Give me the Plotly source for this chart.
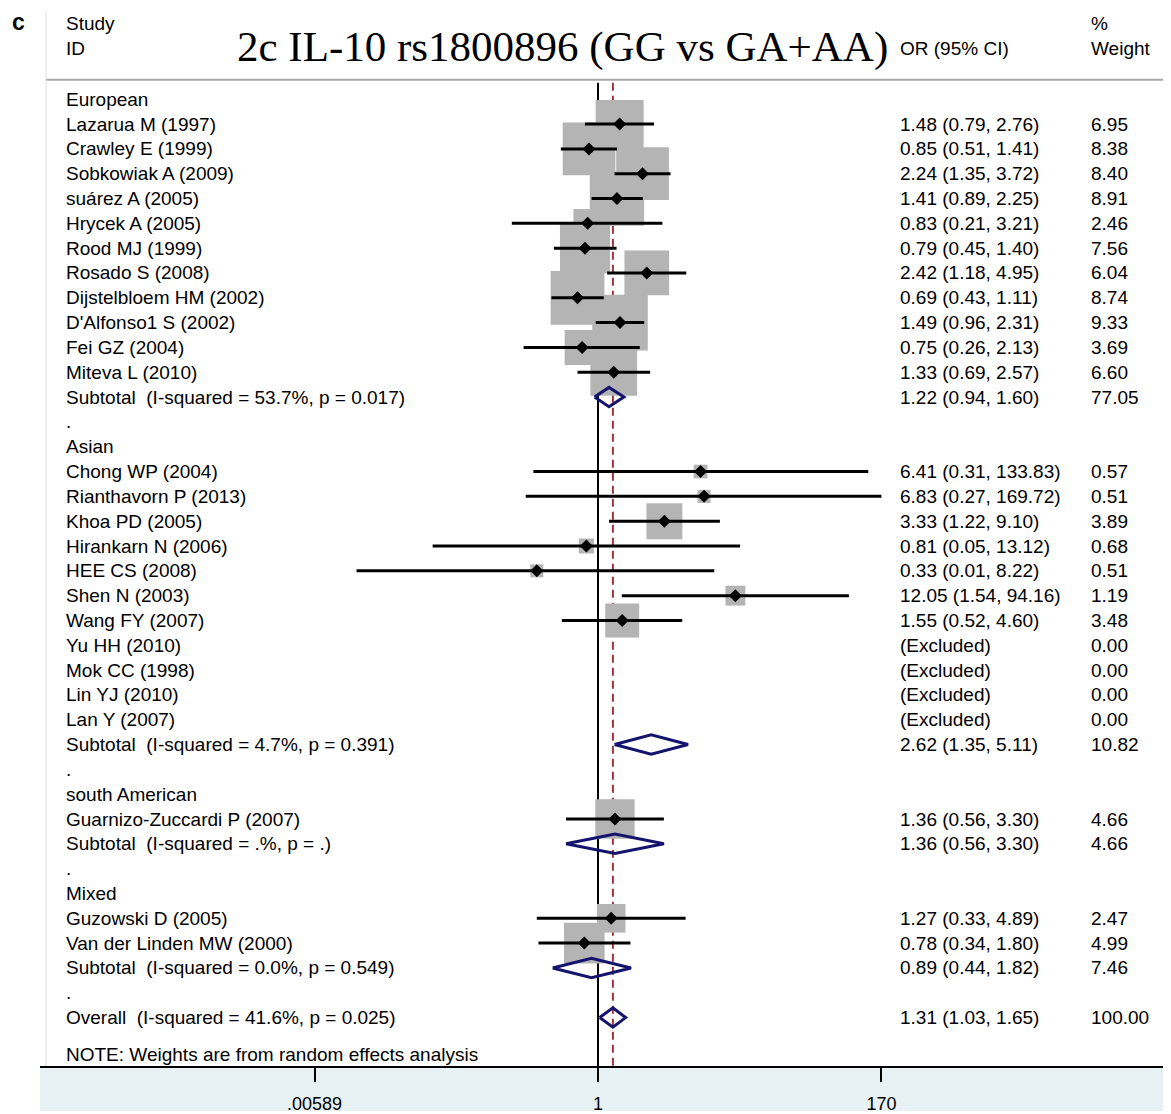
import plotly.graph_objects as go

# ---------------- data ----------------
groups = ["European", "Asian", "south American", "Mixed"]

study = ["Lazarua M (1997)", "Crawley E (1999)", "Sobkowiak A (2009)", "suárez A (2005)",
         "Hrycek A (2005)", "Rood MJ (1999)", "Rosado S (2008)", "Dijstelbloem HM (2002)",
         "D'Alfonso1 S (2002)", "Fei GZ (2004)", "Miteva L (2010)",
         "Chong WP (2004)", "Rianthavorn P (2013)", "Khoa PD (2005)", "Hirankarn N (2006)",
         "HEE CS (2008)", "Shen N (2003)", "Wang FY (2007)", "Yu HH (2010)", "Mok CC (1998)",
         "Lin YJ (2010)", "Lan Y (2007)",
         "Guarnizo-Zuccardi P (2007)",
         "Guzowski D (2005)", "Van der Linden MW (2000)"]
study_group = ["European"] * 11 + ["Asian"] * 11 + ["south American"] + ["Mixed"] * 2
odds = [1.48, 0.85, 2.24, 1.41, 0.83, 0.79, 2.42, 0.69, 1.49, 0.75, 1.33,
        6.41, 6.83, 3.33, 0.81, 0.33, 12.05, 1.55, None, None, None, None,
        1.36,
        1.27, 0.78]
ci_lo = [0.79, 0.51, 1.35, 0.89, 0.21, 0.45, 1.18, 0.43, 0.96, 0.26, 0.69,
         0.31, 0.27, 1.22, 0.05, 0.0126, 1.54, 0.52, None, None, None, None,
         0.56,
         0.33, 0.34]
ci_hi = [2.76, 1.41, 3.72, 2.25, 3.21, 1.40, 4.95, 1.11, 2.31, 2.13, 2.57,
         133.83, 169.72, 9.10, 13.12, 8.22, 94.16, 4.60, None, None, None, None,
         3.30,
         4.89, 1.80]
weight = [6.95, 8.38, 8.40, 8.91, 2.46, 7.56, 6.04, 8.74, 9.33, 3.69, 6.60,
          0.57, 0.51, 3.89, 0.68, 0.51, 1.19, 3.48, 0.00, 0.00, 0.00, 0.00,
          4.66,
          2.47, 4.99]

sub_label = ["Subtotal\u00a0\u00a0(I-squared = 53.7%, p = 0.017)",
             "Subtotal\u00a0\u00a0(I-squared = 4.7%, p = 0.391)",
             "Subtotal\u00a0\u00a0(I-squared = .%, p = .)",
             "Subtotal\u00a0\u00a0(I-squared = 0.0%, p = 0.549)"]
sub_or = [1.22, 2.62, 1.36, 0.89]
sub_lo = [0.94, 1.35, 0.56, 0.44]
sub_hi = [1.60, 5.11, 3.30, 1.82]
sub_wt = [77.05, 10.82, 4.66, 7.46]

overall_label = "Overall\u00a0\u00a0(I-squared = 41.6%, p = 0.025)"
overall_or, overall_lo, overall_hi, overall_wt = 1.31, 1.03, 1.65, 100.00

tick_vals = [0.00589, 1, 170]
tick_text = [".00589", "1", "170"]

title_text = "2c IL-10 rs1800896 (GG vs GA+AA)"
note_text = "NOTE: Weights are from random effects analysis"

# ---------------- layout helpers ----------------
OFF = 8  # page body margin; page px -> figure px
PAGE_W, PAGE_H = 1171, 1114
W, H = PAGE_W - OFF, PAGE_H - OFF
ML = 46 - OFF
PLOT_BOTTOM = 1070 - OFF
PLOT_W = W - ML
PLOT_H = PLOT_BOTTOM
MB = H - PLOT_BOTTOM
ROW0_PX, ROW_PX = 99.5 - OFF, 24.89
X1_PX, DEC_PX = 598 - OFF, 127.1


def px2paper(px):  # px given in page coordinates
    return (px - OFF - ML) / PLOT_W


def pyrow(py):  # py given in page coordinates
    return (py - OFF - ROW0_PX) / ROW_PX


FONT = "Liberation Sans, Arial, sans-serif"
FS = 19

rows = []  # (kind, label, idx)
for gi, g in enumerate(groups):
    rows.append(("header", g, None))
    for i, s in enumerate(study):
        if study_group[i] == g:
            rows.append(("study", s, i))
    rows.append(("sub", sub_label[gi], gi))
    rows.append(("dot", ".", None))
rows.append(("overall", overall_label, None))

annotations = []
sq_x, sq_y, sq_s = [], [], []
pt_x, pt_y = [], []
ln_x, ln_y = [], []
dm_x, dm_y = [], []
DH = 0.39


def fmt_ci(o, l, h):
    return f"{o:.2f} ({l:.2f}, {h:.2f})"


def add_text(px, row, text):
    annotations.append(dict(x=px2paper(px), xref="paper", y=row, yref="y", text=text,
                            showarrow=False, xanchor="left", yanchor="middle",
                            font=dict(family=FONT, size=FS, color="black")))


def add_diamond(o, l, h, r):
    dm_x.extend([l, o, h, o, l, None])
    dm_y.extend([r, r - DH, r, r + DH, r, None])


for r, (kind, label, idx) in enumerate(rows):
    add_text(64, r, label)
    if kind == "study":
        o = odds[idx]
        if o is None:
            add_text(898, r, "(Excluded)")
        else:
            add_text(898, r, fmt_ci(o, ci_lo[idx], ci_hi[idx]))
            sq_x.append(o); sq_y.append(r); sq_s.append(18.2 * weight[idx] ** 0.5)
            pt_x.append(o); pt_y.append(r)
            ln_x.extend([ci_lo[idx], ci_hi[idx], None]); ln_y.extend([r, r, None])
        add_text(1089, r, f"{weight[idx]:.2f}")
    elif kind == "sub":
        add_text(898, r, fmt_ci(sub_or[idx], sub_lo[idx], sub_hi[idx]))
        add_text(1089, r, f"{sub_wt[idx]:.2f}")
        add_diamond(sub_or[idx], sub_lo[idx], sub_hi[idx], r)
    elif kind == "overall":
        add_text(898, r, fmt_ci(overall_or, overall_lo, overall_hi))
        add_text(1089, r, f"{overall_wt:.2f}")
        add_diamond(overall_or, overall_lo, overall_hi, r)

# note
add_text(64, pyrow(1057), note_text)
# headers
add_text(64, pyrow(24), "Study")
add_text(64, pyrow(49), "ID")
add_text(898, pyrow(49), "OR (95% CI)")
add_text(1089, pyrow(24), "%")
add_text(1089, pyrow(49), "Weight")
annotations.append(dict(x=px2paper(562), xref="paper", y=pyrow(47), yref="y", text=title_text,
                        showarrow=False, xanchor="center", yanchor="middle",
                        font=dict(family="Liberation Serif, Times New Roman, serif", size=43,
                                  color="black")))
annotations.append(dict(x=px2paper(18), xref="paper", y=pyrow(22), yref="y", text="<b>c</b>",
                        showarrow=False, xanchor="center", yanchor="middle",
                        font=dict(family=FONT, size=23, color="black")))

y_top = pyrow(83)
y_bot = pyrow(1075)

fig = go.Figure()
# null line and overall dashed line
fig.add_trace(go.Scatter(x=[1, 1], y=[y_top, y_bot], mode="lines",
                         line=dict(color="black", width=2), hoverinfo="skip"))
fig.add_trace(go.Scatter(x=[overall_or, overall_or], y=[y_top, y_bot], mode="lines",
                         line=dict(color="#a3343c", width=2, dash="8px,5px"), hoverinfo="skip"))
# weight squares
fig.add_trace(go.Scatter(x=sq_x, y=sq_y, mode="markers",
                         marker=dict(symbol="square", size=sq_s, color="#b4b4b4", opacity=1,
                                     line=dict(width=0)), hoverinfo="skip"))
# CI lines
fig.add_trace(go.Scatter(x=ln_x, y=ln_y, mode="lines",
                         line=dict(color="black", width=3), hoverinfo="skip"))
# point estimates
fig.add_trace(go.Scatter(x=pt_x, y=pt_y, mode="markers",
                         marker=dict(symbol="diamond", size=10, color="black", opacity=1,
                                     line=dict(width=0)), hoverinfo="skip"))
# pooled diamonds
fig.add_trace(go.Scatter(x=dm_x, y=dm_y, mode="lines",
                         line=dict(color="#14146e", width=3), hoverinfo="skip"))

x_lo = (ML - X1_PX) / DEC_PX
x_hi = (W - X1_PX) / DEC_PX

shapes = [
    # axis band
    dict(type="rect", xref="paper", yref="paper", x0=px2paper(40), x1=1.0,
         y0=-MB / PLOT_H, y1=0, fillcolor="#e8f1f3", line=dict(width=0), layer="below"),
    # header separator
    dict(type="line", xref="paper", yref="paper", x0=0, x1=1,
         y0=1 - (80 - OFF) / PLOT_H, y1=1 - (80 - OFF) / PLOT_H,
         line=dict(color="#a8a8a8", width=2)),
    # left border
    dict(type="line", xref="paper", yref="paper", x0=0, x1=0,
         y0=0, y1=1 - (12 - OFF) / PLOT_H, line=dict(color="#dcdcdc", width=1)),
    # axis line
    dict(type="line", xref="paper", yref="paper", x0=px2paper(40), x1=1,
         y0=0, y1=0, line=dict(color="black", width=2)),
]

fig.update_layout(
    width=W, height=H,
    margin=dict(l=ML, r=0, t=0, b=MB),
    paper_bgcolor="white", plot_bgcolor="white",
    showlegend=False,
    annotations=annotations,
    shapes=shapes,
    xaxis=dict(type="log", range=[x_lo, x_hi], tickvals=tick_vals, ticktext=tick_text,
               ticks="outside", ticklen=14, tickwidth=2, tickcolor="black",
               showgrid=False, zeroline=False, showline=False,
               tickfont=dict(family=FONT, size=18, color="black"), ticklabelstandoff=6),
    yaxis=dict(range=[pyrow(1070), pyrow(8)], visible=False, showgrid=False,
               zeroline=False),
)

fig.write_html("out.html")
